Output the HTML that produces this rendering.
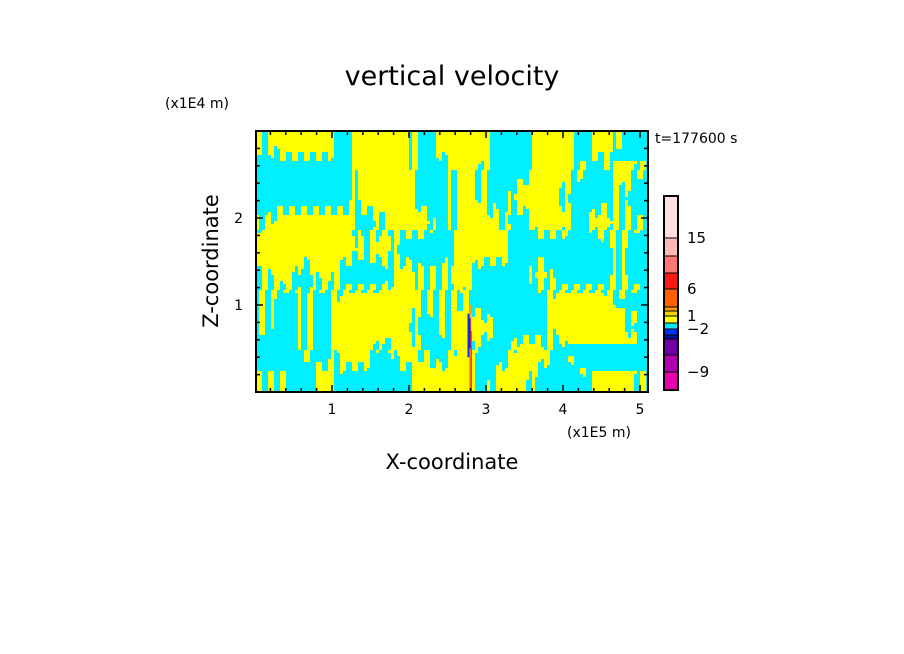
<!DOCTYPE html>
<html><head><meta charset="utf-8"><style>
body{margin:0;background:#fff;width:904px;height:654px;overflow:hidden}
svg{display:block}
text{font-family:"DejaVu Sans","Liberation Sans",sans-serif;fill:#000}
</style></head><body>
<svg id="chart" width="904" height="654" viewBox="0 0 904 654" xmlns="http://www.w3.org/2000/svg">
<text x="452" y="85" font-size="27" text-anchor="middle">vertical velocity</text>
<text x="165" y="108" font-size="14">(x1E4 m)</text>
<text x="567" y="437" font-size="14">(x1E5 m)</text>
<text x="655" y="143" font-size="14">t=177600 s</text>
<text x="452" y="469" font-size="21" text-anchor="middle">X-coordinate</text>
<text x="0" y="0" font-size="21" text-anchor="middle" transform="translate(218,261) rotate(-90)">Z-coordinate</text>
<g id="field"></g>
<g id="axes"></g>
<g id="cbar"></g>
</svg>
<script>
const NS="http://www.w3.org/2000/svg";
// approximate sign field (+1 yellow, -1 cyan, 0 striped), rows top (z=3) to bottom (z=0)
const fieldRow0=[0,1,1,1,-1,1,1,1,-1,1,1,1,-1,-1,1,1,-1,1,0,1];
const fieldRow1=[-1,-1,-1,-1,-1,1,1,1,-1,-1,1,0,-1,-1,1,1,0,-1,1,0];
const fieldRow2=[-1,-1,-1,-1,-1,1,1,1,-1,-1,1,0,-1,1,1,0,-1,-1,0,-1];
const fieldRow3=[0,1,1,1,1,-1,0,1,1,-1,1,1,0,-1,1,1,-1,1,0,0];
const fieldRow4=[1,1,1,1,1,0,1,-1,-1,-1,1,1,1,-1,-1,-1,-1,-1,0,-1];
const fieldRow5=[0,1,-1,1,-1,-1,-1,1,0,0,1,-1,-1,-1,1,-1,-1,-1,0,-1];
const fieldRow6=[0,-1,0,-1,1,1,1,1,0,0,0,-1,-1,-1,-1,1,1,1,0,1];
const fieldRow7=[0,-1,0,-1,1,1,1,1,-1,0,1,1,-1,-1,-1,1,1,1,1,-1];
const fieldRow8=[-1,-1,0,-1,1,1,-1,1,0,-1,1,-1,-1,1,1,-1,1,1,1,1];
const fieldRow9=[0,0,-1,1,-1,-1,-1,-1,1,1,1,-1,1,1,-1,-1,-1,1,1,0];
const xTicks=[1,2,3,4,5];
const zTicks=[1,2];
const cbarLevels=["#ffe0e0","#ffb8b8","#ff7878","#ff1818","#ff6000","#ffa000","#ffd000","#ffff00","#00e8ff","#0030ff","#0010a0","#7000a8","#b000b0","#e800b0"];
const cbarHeights=[42,18,17,16,18,4,5,7,6,6,4,16,17,18];
const cbarLabels=["15","6","1","\u22122","\u22129"];
const cbarLabelIdx=[1,4,7,9,13];
const X0=256,X1=648,Y0=131,Y1=392;
const xScale=v=>255+v*77;
const zScale=v=>392-v*87;
const rows=[fieldRow0,fieldRow1,fieldRow2,fieldRow3,fieldRow4,fieldRow5,fieldRow6,fieldRow7,fieldRow8,fieldRow9];
const field=document.getElementById('field');
const nc=rows[0].length,nr=rows.length,step=3;
function val(px,py){
  let fx=(px-X0)/(X1-X0)*nc-0.5, fy=(py-Y0)/(Y1-Y0)*nr-0.5;
  fx=Math.max(0,Math.min(nc-1.001,fx)); fy=Math.max(0,Math.min(nr-1.001,fy));
  const i=Math.floor(fx),j=Math.floor(fy),a=fx-i,b=fy-j;
  return rows[j][i]*(1-a)*(1-b)+rows[j][i+1]*a*(1-b)+rows[j+1][i]*(1-a)*b+rows[j+1][i+1]*a*b;
}
function isPos(px,py){
  const v=val(px,py);
  if(Math.abs(v)<0.35){ return Math.floor((px-X0+Math.floor((py-Y0)/20))/6)%2===0; }
  return v>0;
}
const bg=document.createElementNS(NS,'rect');
bg.setAttribute('x',X0);bg.setAttribute('y',Y0);bg.setAttribute('width',X1-X0);bg.setAttribute('height',Y1-Y0);bg.setAttribute('fill','#00f0ff');


field.appendChild(bg);
for(let py=Y0;py<Y1;py+=step){
  let run=-1;
  for(let px=X0;px<=X1;px+=step){
    const on=px<X1 && isPos(px+1,py+1);
    if(on&&run<0)run=px;
    if(!on&&run>=0){
      const r=document.createElementNS(NS,'rect');
      r.setAttribute('x',run);r.setAttribute('y',py);r.setAttribute('width',Math.min(px,X1)-run);r.setAttribute('height',Math.min(step,Y1-py));r.setAttribute('fill','#ffff00');
      
      
      field.appendChild(r);run=-1;
    }
  }
}
// narrow updraft/downdraft core near x=2.8
const core=[["#ffa000",2.78,0.03,1.0,0],["#0030ff",2.76,0.025,0.9,0.4],["#7000a8",2.78,0.02,0.85,0.5],["#ff1818",2.8,0.015,0.7,0.0]];
core.forEach(c=>{
  const r=document.createElementNS(NS,'rect');
  r.setAttribute('x',xScale(c[1]));r.setAttribute('y',zScale(c[3]));r.setAttribute('width',c[2]*77);r.setAttribute('height',(c[3]-c[4])*87);r.setAttribute('fill',c[0]);
  
  
  field.appendChild(r);
});
const axes=document.getElementById('axes');
function line(x1,y1,x2,y2,w,name){const l=document.createElementNS(NS,'line');l.setAttribute('x1',x1);l.setAttribute('y1',y1);l.setAttribute('x2',x2);l.setAttribute('y2',y2);l.setAttribute('stroke','#000');l.setAttribute('stroke-width',w);


axes.appendChild(l);}
const fr=document.createElementNS(NS,'rect');
fr.setAttribute('x',X0);fr.setAttribute('y',Y0);fr.setAttribute('width',X1-X0);fr.setAttribute('height',Y1-Y0);fr.setAttribute('fill','none');fr.setAttribute('stroke','#000');fr.setAttribute('stroke-width','2');


axes.appendChild(fr);
for(let v=0.2;v<5.1;v+=0.2){const x=xScale(v);if(x>=X1)break;const maj=Math.abs(v-Math.round(v))<0.01;const L=maj?7:4;line(x,Y1,x,Y1-L,1.5,'x-tick');line(x,Y0,x,Y0+L,1.5,'x-tick');}
for(let v=0.2;v<3;v+=0.2){const y=zScale(v);const maj=Math.abs(v-Math.round(v))<0.01;const L=maj?7:4;line(X0,y,X0+L,y,1.5,'z-tick');line(X1,y,X1-L,y,1.5,'z-tick');}
xTicks.forEach(v=>{const t=document.createElementNS(NS,'text');t.setAttribute('x',xScale(v));t.setAttribute('y',414);t.setAttribute('font-size','14');t.setAttribute('text-anchor','middle');t.textContent=v;


axes.appendChild(t);});
zTicks.forEach(v=>{const t=document.createElementNS(NS,'text');t.setAttribute('x',243);t.setAttribute('y',zScale(v)+5);t.setAttribute('font-size','14');t.setAttribute('text-anchor','end');t.textContent=v;


axes.appendChild(t);});
const cb=document.getElementById('cbar');
let y=196;const bounds=[];
cbarLevels.forEach((c,i)=>{const r=document.createElementNS(NS,'rect');r.setAttribute('x',664);r.setAttribute('y',y);r.setAttribute('width',14);r.setAttribute('height',cbarHeights[i]);r.setAttribute('fill',c);r.setAttribute('stroke','#000');r.setAttribute('stroke-width','1');


cb.appendChild(r);y+=cbarHeights[i];bounds.push(y);});
const cbf=document.createElementNS(NS,'rect');cbf.setAttribute('x',664);cbf.setAttribute('y',196);cbf.setAttribute('width',14);cbf.setAttribute('height',y-196);cbf.setAttribute('fill','none');cbf.setAttribute('stroke','#000');cbf.setAttribute('stroke-width','2');


cb.appendChild(cbf);
cbarLabels.forEach((s,i)=>{const t=document.createElementNS(NS,'text');t.setAttribute('x',687);t.setAttribute('y',bounds[cbarLabelIdx[i]-1]+5);t.setAttribute('font-size','15');t.textContent=s;


cb.appendChild(t);});
</script>
</body></html>
